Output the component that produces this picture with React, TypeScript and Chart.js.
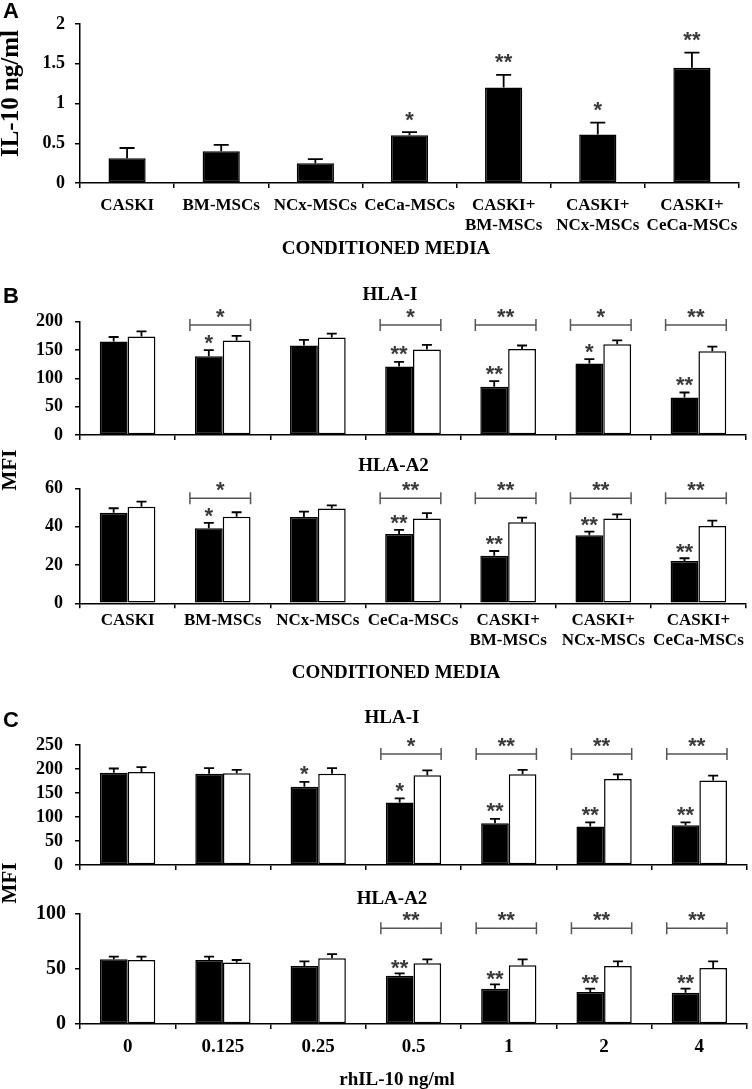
import React, { useEffect, useRef } from "react";
import { Chart, registerables } from "chart.js";

Chart.register(...registerables);

const W = 752;
const H = 1089;
const SERIF = '"Liberation Serif", "Times New Roman", serif';
const SANS = '"Liberation Sans", Arial, sans-serif';

// ---------- data ----------
const mediaLabels: string[][] = [
  ["CASKI"],
  ["BM-MSCs"],
  ["NCx-MSCs"],
  ["CeCa-MSCs"],
  ["CASKI+", "BM-MSCs"],
  ["CASKI+", "NCx-MSCs"],
  ["CASKI+", "CeCa-MSCs"],
];
const doseLabels = ["0", "0.125", "0.25", "0.5", "1", "2", "4"];

// Panel A: IL-10 ng/ml
const il10Mean = [0.31, 0.4, 0.25, 0.6, 1.2, 0.61, 1.45];
const il10Err = [0.13, 0.08, 0.05, 0.04, 0.16, 0.15, 0.19];
const il10Stars = ["", "", "", "*", "**", "*", "**"];

// Panel B: HLA-I MFI
const bHlaIBlack = [165, 139, 158, 121, 85, 126, 66];
const bHlaIBlackErr = [8, 11, 10, 8, 10, 8, 9];
const bHlaIWhite = [174, 167, 172, 151, 152, 160, 148];
const bHlaIWhiteErr = [9, 8, 7, 8, 6, 7, 8];
const bHlaIStars = ["", "*", "", "**", "**", "*", "**"];
const bHlaIBracket = ["", "*", "", "*", "**", "*", "**"];

// Panel B: HLA-A2 MFI
const bHlaA2Black = [47.3, 39.1, 45, 36.2, 24.8, 35.5, 22.1];
const bHlaA2BlackErr = [2.3, 2.9, 2.8, 2.1, 2.5, 1.9, 1.4];
const bHlaA2White = [50.4, 45.2, 49.4, 44.3, 42.3, 44.3, 40.3];
const bHlaA2WhiteErr = [2.6, 2.3, 1.7, 2.7, 2.4, 2.1, 2.8];
const bHlaA2Stars = ["", "*", "", "**", "**", "**", "**"];
const bHlaA2Bracket = ["", "*", "", "**", "**", "**", "**"];

// Panel C: HLA-I MFI vs rhIL-10
const cHlaIBlack = [192, 190, 163, 130, 87, 80, 83];
const cHlaIBlackErr = [9, 12, 10, 9, 9, 9, 6];
const cHlaIWhite = [194, 191, 190, 187, 189, 179, 176];
const cHlaIWhiteErr = [10, 7, 12, 10, 9, 10, 10];
const cHlaIStars = ["", "", "*", "*", "**", "**", "**"];
const cHlaIBracket = ["", "", "", "*", "**", "**", "**"];

// Panel C: HLA-A2 MFI vs rhIL-10
const cHlaA2Black = [58.8, 58.2, 52.7, 43.9, 32.1, 29, 28.5];
const cHlaA2BlackErr = [2.4, 3, 4.3, 2.1, 4, 3.1, 3.6];
const cHlaA2White = [58.2, 56, 59.7, 55.2, 53.3, 52.7, 50.9];
const cHlaA2WhiteErr = [3, 2.2, 3.9, 3.6, 5.5, 4.3, 6.1];
const cHlaA2Stars = ["", "", "", "**", "**", "**", "**"];
const cHlaA2Bracket = ["", "", "", "**", "**", "**", "**"];

// ---------- types ----------
type Series = { values: number[]; errors: number[]; fill: string };
type Txt = {
  text: string;
  x: number;
  y: number;
  font: string;
  rot?: boolean;
  align?: CanvasTextAlign;
  baseline?: CanvasTextBaseline;
};
type Spec = {
  labels: (string | string[])[];
  series: Series[];
  yMax: number;
  yStep: number;
  top: number;
  bottom: number;
  right: number;
  catPct: number;
  barPct: number;
  cap: number;
  barStars: string[];
  starGap: number;
  bracketStars?: string[];
  bracketLevel?: number;
  showX: boolean;
  xFont: number;
  xPad: number;
  yFont: number;
  yPad: number;
  texts: Txt[];
};

const bold = (size: number, fam: string) => `bold ${size}px ${fam}`;

const specs: Spec[] = [
  {
    labels: mediaLabels,
    series: [{ values: il10Mean, errors: il10Err, fill: "#000" }],
    yMax: 2,
    yStep: 0.5,
    top: 24,
    bottom: 183,
    right: 739,
    catPct: 1,
    barPct: 0.395,
    cap: 15,
    barStars: il10Stars,
    starGap: 16,
    showX: true,
    xFont: 17,
    xPad: 7,
    yFont: 18,
    yPad: 10,
    texts: [
      { text: "A", x: 3, y: 18, font: bold(22, SANS), align: "left", baseline: "alphabetic" },
      { text: "IL-10 ng/ml", x: 12, y: 93.5, font: bold(25, SERIF), rot: true },
      { text: "CONDITIONED MEDIA", x: 386, y: 249, font: bold(19, SERIF) },
    ],
  },
  {
    labels: mediaLabels,
    series: [
      { values: bHlaIBlack, errors: bHlaIBlackErr, fill: "#000" },
      { values: bHlaIWhite, errors: bHlaIWhiteErr, fill: "#fff" },
    ],
    yMax: 200,
    yStep: 50,
    top: 321.7,
    bottom: 435,
    right: 746,
    catPct: 0.585,
    barPct: 1,
    cap: 10,
    barStars: bHlaIStars,
    starGap: 11,
    bracketStars: bHlaIBracket,
    bracketLevel: 194,
    showX: false,
    xFont: 17,
    xPad: 1,
    yFont: 18,
    yPad: 12,
    texts: [
      { text: "B", x: 3, y: 303, font: bold(22, SANS), align: "left", baseline: "alphabetic" },
      { text: "HLA-I", x: 390, y: 295, font: bold(19, SERIF) },
    ],
  },
  {
    labels: mediaLabels,
    series: [
      { values: bHlaA2Black, errors: bHlaA2BlackErr, fill: "#000" },
      { values: bHlaA2White, errors: bHlaA2WhiteErr, fill: "#fff" },
    ],
    yMax: 60,
    yStep: 20,
    top: 488.3,
    bottom: 603.3,
    right: 746,
    catPct: 0.585,
    barPct: 1,
    cap: 10,
    barStars: bHlaA2Stars,
    starGap: 10,
    bracketStars: bHlaA2Bracket,
    bracketLevel: 54.8,
    showX: true,
    xFont: 17,
    xPad: 2,
    yFont: 18,
    yPad: 12,
    texts: [
      { text: "HLA-A2", x: 393.5, y: 466.5, font: bold(19, SERIF) },
      { text: "MFI", x: 10.5, y: 470, font: bold(21, SERIF), rot: true },
      { text: "CONDITIONED MEDIA", x: 396, y: 673, font: bold(19, SERIF) },
    ],
  },
  {
    labels: doseLabels,
    series: [
      { values: cHlaIBlack, errors: cHlaIBlackErr, fill: "#000" },
      { values: cHlaIWhite, errors: cHlaIWhiteErr, fill: "#fff" },
    ],
    yMax: 250,
    yStep: 50,
    top: 745,
    bottom: 865,
    right: 747,
    catPct: 0.58,
    barPct: 1,
    cap: 10,
    barStars: cHlaIStars,
    starGap: 11,
    bracketStars: cHlaIBracket,
    bracketLevel: 231,
    showX: false,
    xFont: 19,
    xPad: 6,
    yFont: 18,
    yPad: 12,
    texts: [
      { text: "C", x: 3, y: 727, font: bold(22, SANS), align: "left", baseline: "alphabetic" },
      { text: "HLA-I", x: 392, y: 718.5, font: bold(19, SERIF) },
    ],
  },
  {
    labels: doseLabels,
    series: [
      { values: cHlaA2Black, errors: cHlaA2BlackErr, fill: "#000" },
      { values: cHlaA2White, errors: cHlaA2WhiteErr, fill: "#fff" },
    ],
    yMax: 100,
    yStep: 50,
    top: 914,
    bottom: 1024,
    right: 747,
    catPct: 0.58,
    barPct: 1,
    cap: 10,
    barStars: cHlaA2Stars,
    starGap: 9,
    bracketStars: cHlaA2Bracket,
    bracketLevel: 87,
    showX: true,
    xFont: 19,
    xPad: 7,
    yFont: 20,
    yPad: 9,
    texts: [
      { text: "HLA-A2", x: 392, y: 899, font: bold(19, SERIF) },
      { text: "MFI", x: 11, y: 883, font: bold(21, SERIF), rot: true },
      { text: "rhIL-10 ng/ml", x: 397, y: 1080, font: bold(19, SERIF) },
    ],
  },
];

function drawCenteredStar(ctx: CanvasRenderingContext2D, s: string, x: number, cy: number) {
  ctx.font = bold(22, SANS);
  ctx.textAlign = "center";
  ctx.textBaseline = "alphabetic";
  const m = ctx.measureText(s);
  const asc = m.actualBoundingBoxAscent;
  const desc = m.actualBoundingBoxDescent;
  const baseY = cy + (asc - desc) / 2;
  ctx.fillStyle = "#3a3a3a";
  ctx.fillText(s, x, baseY);
}

function makeOverlay(spec: Spec) {
  return {
    id: "overlay",
    afterDatasetsDraw(chart: any) {
      const ctx: CanvasRenderingContext2D = chart.ctx;
      const y = chart.scales.y;
      ctx.save();
      // error bars (upper only)
      spec.series.forEach((s, di) => {
        const meta = chart.getDatasetMeta(di);
        meta.data.forEach((bar: any, i: number) => {
          const p = bar.getProps(["x", "y", "width"], true);
          const top = y.getPixelForValue(s.values[i] + s.errors[i]);
          ctx.strokeStyle = "#000";
          ctx.lineWidth = 1.8;
          ctx.beginPath();
          ctx.moveTo(p.x, p.y);
          ctx.lineTo(p.x, top);
          ctx.moveTo(p.x - spec.cap / 2, top);
          ctx.lineTo(p.x + spec.cap / 2, top);
          ctx.stroke();
        });
      });
      // stars over first series
      const s0 = spec.series[0];
      const m0 = chart.getDatasetMeta(0);
      m0.data.forEach((bar: any, i: number) => {
        const st = spec.barStars[i];
        if (!st) return;
        const p = bar.getProps(["x"], true);
        const top = y.getPixelForValue(s0.values[i] + s0.errors[i]);
        drawCenteredStar(ctx, st, p.x, top - spec.starGap);
      });
      // brackets
      if (spec.bracketStars && spec.bracketLevel !== undefined) {
        const mL = chart.getDatasetMeta(spec.series.length - 1);
        const yb = y.getPixelForValue(spec.bracketLevel);
        spec.bracketStars.forEach((st, i) => {
          if (!st) return;
          const a = m0.data[i].getProps(["x", "width"], true);
          const b = mL.data[i].getProps(["x", "width"], true);
          const left = a.x - a.width / 2 - 5;
          const right = b.x + b.width / 2;
          ctx.strokeStyle = "#555";
          ctx.lineWidth = 1.5;
          ctx.beginPath();
          ctx.moveTo(left, yb);
          ctx.lineTo(right, yb);
          ctx.moveTo(left, yb - 6);
          ctx.lineTo(left, yb + 6);
          ctx.moveTo(right, yb - 6);
          ctx.lineTo(right, yb + 6);
          ctx.stroke();
          drawCenteredStar(ctx, st, (left + right) / 2, yb - 12);
        });
      }
      // texts
      ctx.fillStyle = "#000";
      spec.texts.forEach((t) => {
        ctx.save();
        ctx.font = t.font;
        ctx.textAlign = t.align || "center";
        ctx.textBaseline = t.baseline || "middle";
        if (t.rot) {
          ctx.translate(t.x, t.y);
          ctx.rotate(-Math.PI / 2);
          ctx.fillText(t.text, 0, 0);
        } else {
          ctx.fillText(t.text, t.x, t.y);
        }
        ctx.restore();
      });
      ctx.restore();
    },
  };
}

function buildChart(canvas: HTMLCanvasElement, spec: Spec) {
  const datasets = spec.series.map((s) => ({
    data: s.values,
    backgroundColor: s.fill,
    borderColor: "#000",
    borderWidth: 1.5,
    borderSkipped: false as any,
    categoryPercentage: spec.catPct,
    barPercentage: spec.barPct,
  }));
  return new Chart(canvas, {
    type: "bar",
    data: { labels: spec.labels as any, datasets },
    options: {
      responsive: false,
      animation: false,
      devicePixelRatio: 1,
      layout: { padding: { top: spec.top, left: 0, right: W - spec.right, bottom: 0 } },
      plugins: { legend: { display: false }, tooltip: { enabled: false }, title: { display: false } },
      scales: {
        x: {
          offset: true,
          grid: {
            offset: true,
            display: true,
            drawOnChartArea: false,
            drawTicks: true,
            tickLength: 5,
            color: "#000",
            lineWidth: 1.5,
          },
          border: { display: true, color: "#000", width: 1.5 },
          ticks: {
            display: spec.showX,
            color: "#000",
            padding: spec.xPad,
            maxRotation: 0,
            minRotation: 0,
            autoSkip: false,
            font: { family: SERIF, size: spec.xFont, weight: "bold", lineHeight: 1.2 },
          },
          afterFit: (scale: any) => {
            scale.height = H - spec.bottom;
          },
        },
        y: {
          min: 0,
          max: spec.yMax,
          grid: {
            display: true,
            drawOnChartArea: false,
            drawTicks: true,
            tickLength: 5,
            color: "#000",
            lineWidth: 1.5,
          },
          border: { display: true, color: "#000", width: 1.5 },
          ticks: {
            stepSize: spec.yStep,
            autoSkip: false,
            color: "#000",
            padding: spec.yPad,
            font: { family: SERIF, size: spec.yFont, weight: "bold" },
            callback: (v: any) => String(Number(v)),
          },
          afterFit: (scale: any) => {
            scale.width = 80;
          },
        },
      },
    },
    plugins: [makeOverlay(spec)],
  } as any);
}

function Panel({ spec }: { spec: Spec }) {
  const ref = useRef<HTMLCanvasElement | null>(null);
  useEffect(() => {
    if (!ref.current) return;
    const chart = buildChart(ref.current, spec);
    return () => chart.destroy();
  }, [spec]);
  return (
    <canvas
      ref={ref}
      width={W}
      height={H}
      style={{ position: "absolute", left: 0, top: 0, width: W, height: H }}
    />
  );
}

export default function App() {
  return (
    <div
      style={{
        position: "absolute",
        left: 0,
        top: 0,
        width: W,
        height: H,
        background: "#fff",
        overflow: "hidden",
      }}
    >
      {specs.map((s, i) => (
        <Panel key={i} spec={s} />
      ))}
    </div>
  );
}
